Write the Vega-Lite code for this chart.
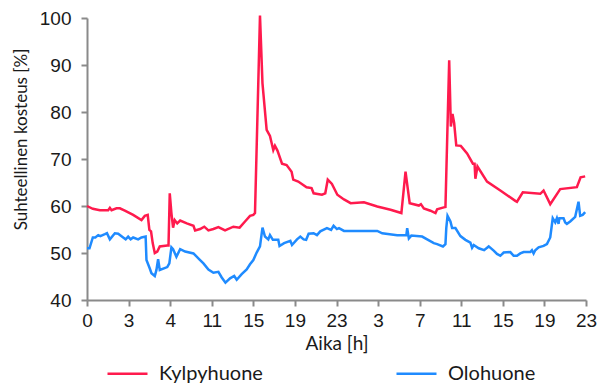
{
  "$schema": "https://vega.github.io/schema/vega-lite/v6.json",
  "width": 499,
  "height": 282,
  "autosize": "none",
  "padding": {"left": 87, "top": 18, "right": 17, "bottom": 84},
  "background": "white",
  "config": {
    "view": {"stroke": null},
    "axis": {"grid": false, "domainColor": "#8a8a8a", "domainWidth": 2, "tickColor": "#8a8a8a", "tickWidth": 2, "tickSize": 6, "labelColor": "#1a1a1a", "labelFont": "Liberation Sans", "labelFontSize": 19, "labelFlush": false, "titleFont": "Lato", "titleFontSize": 17, "titleFontWeight": "normal", "titleColor": "#1a1a1a"}
  },
  "data": {"values": [
    {"s":"Kylpyhuone","t":0,"v":60},{"s":"Kylpyhuone","t":0.14,"v":59.4},{"s":"Kylpyhuone","t":0.31,"v":59.1},{"s":"Kylpyhuone","t":0.51,"v":59.1},{"s":"Kylpyhuone","t":0.55,"v":59.6},{"s":"Kylpyhuone","t":0.59,"v":59.1},{"s":"Kylpyhuone","t":0.71,"v":59.5},{"s":"Kylpyhuone","t":0.79,"v":59.5},{"s":"Kylpyhuone","t":0.91,"v":59},{"s":"Kylpyhuone","t":1.11,"v":58.1},{"s":"Kylpyhuone","t":1.31,"v":57.0},{"s":"Kylpyhuone","t":1.39,"v":57.9},{"s":"Kylpyhuone","t":1.46,"v":58.1},{"s":"Kylpyhuone","t":1.5,"v":54.9},{"s":"Kylpyhuone","t":1.54,"v":54.6},{"s":"Kylpyhuone","t":1.58,"v":52.1},{"s":"Kylpyhuone","t":1.63,"v":50},{"s":"Kylpyhuone","t":1.69,"v":50.3},{"s":"Kylpyhuone","t":1.75,"v":51.4},{"s":"Kylpyhuone","t":1.93,"v":51.6},{"s":"Kylpyhuone","t":1.96,"v":51.6},{"s":"Kylpyhuone","t":1.99,"v":62.7},{"s":"Kylpyhuone","t":2.03,"v":58.5},{"s":"Kylpyhuone","t":2.07,"v":55.4},{"s":"Kylpyhuone","t":2.11,"v":57},{"s":"Kylpyhuone","t":2.17,"v":56.3},{"s":"Kylpyhuone","t":2.24,"v":56.9},{"s":"Kylpyhuone","t":2.4,"v":56.3},{"s":"Kylpyhuone","t":2.56,"v":55.8},{"s":"Kylpyhuone","t":2.6,"v":54.8},{"s":"Kylpyhuone","t":2.72,"v":55.1},{"s":"Kylpyhuone","t":2.82,"v":55.6},{"s":"Kylpyhuone","t":2.92,"v":54.8},{"s":"Kylpyhuone","t":3.04,"v":55.1},{"s":"Kylpyhuone","t":3.16,"v":55.5},{"s":"Kylpyhuone","t":3.32,"v":54.8},{"s":"Kylpyhuone","t":3.52,"v":55.6},{"s":"Kylpyhuone","t":3.67,"v":55.4},{"s":"Kylpyhuone","t":3.8,"v":56.7},{"s":"Kylpyhuone","t":3.92,"v":57.9},{"s":"Kylpyhuone","t":4.0,"v":58.1},{"s":"Kylpyhuone","t":4.04,"v":58.5},{"s":"Kylpyhuone","t":4.16,"v":100.5},{"s":"Kylpyhuone","t":4.22,"v":86.1},{"s":"Kylpyhuone","t":4.32,"v":76.2},{"s":"Kylpyhuone","t":4.4,"v":74.9},{"s":"Kylpyhuone","t":4.48,"v":71.9},{"s":"Kylpyhuone","t":4.52,"v":72.8},{"s":"Kylpyhuone","t":4.58,"v":71.8},{"s":"Kylpyhuone","t":4.69,"v":69},{"s":"Kylpyhuone","t":4.8,"v":68.7},{"s":"Kylpyhuone","t":4.92,"v":67.3},{"s":"Kylpyhuone","t":4.96,"v":65.6},{"s":"Kylpyhuone","t":5.08,"v":65.2},{"s":"Kylpyhuone","t":5.28,"v":64},{"s":"Kylpyhuone","t":5.4,"v":63.8},{"s":"Kylpyhuone","t":5.45,"v":62.7},{"s":"Kylpyhuone","t":5.65,"v":62.4},{"s":"Kylpyhuone","t":5.73,"v":62.7},{"s":"Kylpyhuone","t":5.79,"v":65.6},{"s":"Kylpyhuone","t":5.89,"v":64.7},{"s":"Kylpyhuone","t":6.02,"v":62.4},{"s":"Kylpyhuone","t":6.18,"v":61.4},{"s":"Kylpyhuone","t":6.34,"v":60.6},{"s":"Kylpyhuone","t":6.66,"v":60.8},{"s":"Kylpyhuone","t":6.98,"v":59.9},{"s":"Kylpyhuone","t":7.3,"v":59.2},{"s":"Kylpyhuone","t":7.56,"v":58.5},{"s":"Kylpyhuone","t":7.66,"v":67.3},{"s":"Kylpyhuone","t":7.76,"v":60.6},{"s":"Kylpyhuone","t":7.98,"v":60.1},{"s":"Kylpyhuone","t":8.03,"v":60.4},{"s":"Kylpyhuone","t":8.1,"v":59.5},{"s":"Kylpyhuone","t":8.26,"v":59},{"s":"Kylpyhuone","t":8.38,"v":58.5},{"s":"Kylpyhuone","t":8.42,"v":59.3},{"s":"Kylpyhuone","t":8.58,"v":59.7},{"s":"Kylpyhuone","t":8.62,"v":59.8},{"s":"Kylpyhuone","t":8.71,"v":91},{"s":"Kylpyhuone","t":8.75,"v":76.9},{"s":"Kylpyhuone","t":8.79,"v":79.6},{"s":"Kylpyhuone","t":8.83,"v":77.6},{"s":"Kylpyhuone","t":8.88,"v":72.9},{"s":"Kylpyhuone","t":8.99,"v":72.8},{"s":"Kylpyhuone","t":9.14,"v":71.2},{"s":"Kylpyhuone","t":9.28,"v":69},{"s":"Kylpyhuone","t":9.32,"v":69},{"s":"Kylpyhuone","t":9.34,"v":65.8},{"s":"Kylpyhuone","t":9.39,"v":68.4},{"s":"Kylpyhuone","t":9.62,"v":65.2},{"s":"Kylpyhuone","t":9.94,"v":63.3},{"s":"Kylpyhuone","t":10.3,"v":61.1},{"s":"Kylpyhuone","t":10.34,"v":60.9},{"s":"Kylpyhuone","t":10.48,"v":62.9},{"s":"Kylpyhuone","t":10.9,"v":62.6},{"s":"Kylpyhuone","t":10.98,"v":63.3},{"s":"Kylpyhuone","t":11.14,"v":60.4},{"s":"Kylpyhuone","t":11.38,"v":63.6},{"s":"Kylpyhuone","t":11.78,"v":64},{"s":"Kylpyhuone","t":11.87,"v":66.1},{"s":"Kylpyhuone","t":11.98,"v":66.3},
    {"s":"Olohuone","t":0,"v":51},{"s":"Olohuone","t":0.06,"v":51},{"s":"Olohuone","t":0.14,"v":53.3},{"s":"Olohuone","t":0.2,"v":53.3},{"s":"Olohuone","t":0.27,"v":53.8},{"s":"Olohuone","t":0.32,"v":53.6},{"s":"Olohuone","t":0.43,"v":54},{"s":"Olohuone","t":0.48,"v":54.2},{"s":"Olohuone","t":0.55,"v":52.9},{"s":"Olohuone","t":0.67,"v":54.2},{"s":"Olohuone","t":0.75,"v":54.1},{"s":"Olohuone","t":0.87,"v":53.3},{"s":"Olohuone","t":0.93,"v":52.9},{"s":"Olohuone","t":0.99,"v":53.5},{"s":"Olohuone","t":1.05,"v":52.9},{"s":"Olohuone","t":1.11,"v":53.3},{"s":"Olohuone","t":1.23,"v":52.9},{"s":"Olohuone","t":1.31,"v":53.3},{"s":"Olohuone","t":1.41,"v":53.5},{"s":"Olohuone","t":1.43,"v":48.5},{"s":"Olohuone","t":1.51,"v":46.7},{"s":"Olohuone","t":1.55,"v":45.7},{"s":"Olohuone","t":1.63,"v":45.1},{"s":"Olohuone","t":1.67,"v":46.4},{"s":"Olohuone","t":1.71,"v":48.7},{"s":"Olohuone","t":1.75,"v":46.4},{"s":"Olohuone","t":1.93,"v":47},{"s":"Olohuone","t":1.98,"v":47.8},{"s":"Olohuone","t":2.03,"v":51.2},{"s":"Olohuone","t":2.07,"v":50.8},{"s":"Olohuone","t":2.15,"v":49.2},{"s":"Olohuone","t":2.24,"v":50.8},{"s":"Olohuone","t":2.36,"v":50.3},{"s":"Olohuone","t":2.56,"v":49.9},{"s":"Olohuone","t":2.72,"v":48.5},{"s":"Olohuone","t":2.8,"v":47.8},{"s":"Olohuone","t":2.92,"v":46.5},{"s":"Olohuone","t":3.04,"v":45.8},{"s":"Olohuone","t":3.16,"v":46},{"s":"Olohuone","t":3.24,"v":44.8},{"s":"Olohuone","t":3.33,"v":43.7},{"s":"Olohuone","t":3.44,"v":44.6},{"s":"Olohuone","t":3.54,"v":45.1},{"s":"Olohuone","t":3.6,"v":44.3},{"s":"Olohuone","t":3.72,"v":45.5},{"s":"Olohuone","t":3.84,"v":46.5},{"s":"Olohuone","t":3.92,"v":47.6},{"s":"Olohuone","t":4.0,"v":48.5},{"s":"Olohuone","t":4.08,"v":50.1},{"s":"Olohuone","t":4.16,"v":51.4},{"s":"Olohuone","t":4.22,"v":55.4},{"s":"Olohuone","t":4.28,"v":53.5},{"s":"Olohuone","t":4.36,"v":52.9},{"s":"Olohuone","t":4.4,"v":53.8},{"s":"Olohuone","t":4.47,"v":52.8},{"s":"Olohuone","t":4.6,"v":52.8},{"s":"Olohuone","t":4.63,"v":51.5},{"s":"Olohuone","t":4.74,"v":52.1},{"s":"Olohuone","t":4.89,"v":52.6},{"s":"Olohuone","t":4.93,"v":51.7},{"s":"Olohuone","t":5.05,"v":52.9},{"s":"Olohuone","t":5.13,"v":53.5},{"s":"Olohuone","t":5.21,"v":52.9},{"s":"Olohuone","t":5.27,"v":52.8},{"s":"Olohuone","t":5.33,"v":54.1},{"s":"Olohuone","t":5.45,"v":54.2},{"s":"Olohuone","t":5.53,"v":53.8},{"s":"Olohuone","t":5.61,"v":54.6},{"s":"Olohuone","t":5.77,"v":55.3},{"s":"Olohuone","t":5.87,"v":54.9},{"s":"Olohuone","t":5.93,"v":55.8},{"s":"Olohuone","t":6.01,"v":55.1},{"s":"Olohuone","t":6.06,"v":55.3},{"s":"Olohuone","t":6.18,"v":54.7},{"s":"Olohuone","t":6.5,"v":54.7},{"s":"Olohuone","t":6.98,"v":54.7},{"s":"Olohuone","t":7.1,"v":54.2},{"s":"Olohuone","t":7.46,"v":53.8},{"s":"Olohuone","t":7.68,"v":53.8},{"s":"Olohuone","t":7.7,"v":55.3},{"s":"Olohuone","t":7.74,"v":53.1},{"s":"Olohuone","t":7.8,"v":53.7},{"s":"Olohuone","t":8.06,"v":53.5},{"s":"Olohuone","t":8.18,"v":52.9},{"s":"Olohuone","t":8.34,"v":52.1},{"s":"Olohuone","t":8.42,"v":51.9},{"s":"Olohuone","t":8.56,"v":51.4},{"s":"Olohuone","t":8.62,"v":51.9},{"s":"Olohuone","t":8.64,"v":55.3},{"s":"Olohuone","t":8.67,"v":57.9},{"s":"Olohuone","t":8.74,"v":56.7},{"s":"Olohuone","t":8.78,"v":55.3},{"s":"Olohuone","t":8.86,"v":55.3},{"s":"Olohuone","t":8.98,"v":53.6},{"s":"Olohuone","t":9.1,"v":52.8},{"s":"Olohuone","t":9.22,"v":52.2},{"s":"Olohuone","t":9.26,"v":51.1},{"s":"Olohuone","t":9.3,"v":51.7},{"s":"Olohuone","t":9.42,"v":51},{"s":"Olohuone","t":9.55,"v":50.6},{"s":"Olohuone","t":9.66,"v":51.4},{"s":"Olohuone","t":9.78,"v":50.5},{"s":"Olohuone","t":9.86,"v":49.8},{"s":"Olohuone","t":9.94,"v":49.4},{"s":"Olohuone","t":10.02,"v":50.1},{"s":"Olohuone","t":10.18,"v":50.2},{"s":"Olohuone","t":10.26,"v":49.4},{"s":"Olohuone","t":10.34,"v":49.4},{"s":"Olohuone","t":10.42,"v":49.9},{"s":"Olohuone","t":10.5,"v":50.2},{"s":"Olohuone","t":10.66,"v":50.2},{"s":"Olohuone","t":10.7,"v":50.6},{"s":"Olohuone","t":10.74,"v":49.9},{"s":"Olohuone","t":10.78,"v":50.6},{"s":"Olohuone","t":10.86,"v":51.2},{"s":"Olohuone","t":10.98,"v":51.5},{"s":"Olohuone","t":11.06,"v":51.9},{"s":"Olohuone","t":11.14,"v":53.3},{"s":"Olohuone","t":11.2,"v":57.4},{"s":"Olohuone","t":11.26,"v":56.5},{"s":"Olohuone","t":11.3,"v":57.4},{"s":"Olohuone","t":11.34,"v":56.2},{"s":"Olohuone","t":11.36,"v":57.4},{"s":"Olohuone","t":11.46,"v":57.4},{"s":"Olohuone","t":11.5,"v":56.5},{"s":"Olohuone","t":11.54,"v":56.2},{"s":"Olohuone","t":11.62,"v":56.7},{"s":"Olohuone","t":11.74,"v":57.7},{"s":"Olohuone","t":11.82,"v":60.9},{"s":"Olohuone","t":11.86,"v":57.9},{"s":"Olohuone","t":11.92,"v":58.1},{"s":"Olohuone","t":11.98,"v":58.7}
  ]},
  "mark": {"type": "line", "strokeWidth": 2.5, "interpolate": "linear"},
  "encoding": {
    "x": {"field": "t", "type": "quantitative",
      "scale": {"domain": [0, 12], "nice": false, "zero": false},
      "axis": {"values": [0,1,2,3,4,5,6,7,8,9,10,11,12],
        "labelExpr": "['0','3','4','11','15','19','23','3','7','11','15','19','23'][datum.value]",
        "labelPadding": 5, "title": "Aika [h]", "titleFontSize": 19, "titlePadding": 4}},
    "y": {"field": "v", "type": "quantitative",
      "scale": {"domain": [40, 100], "nice": false, "zero": false},
      "axis": {"values": [40,50,60,70,80,90,100], "labelPadding": 10, "tickSize": 6,
        "title": "Suhteellinen kosteus [%]", "titleX": -57, "titleY": 121}},
    "color": {"field": "s", "type": "nominal",
      "scale": {"domain": ["Kylpyhuone", "Olohuone"], "range": ["#ff1a4d", "#1f8bff"]},
      "legend": {"orient": "none", "legendX": 19, "legendY": 334, "direction": "horizontal", "title": null,
        "symbolType": "stroke", "symbolSize": 1600, "symbolStrokeWidth": 2.5, "labelFont": "Lato", "labelFontSize": 20,
        "labelColor": "#1a1a1a", "labelOffset": 10, "columnPadding": 128, "labelLimit": 300}}
  }
}
